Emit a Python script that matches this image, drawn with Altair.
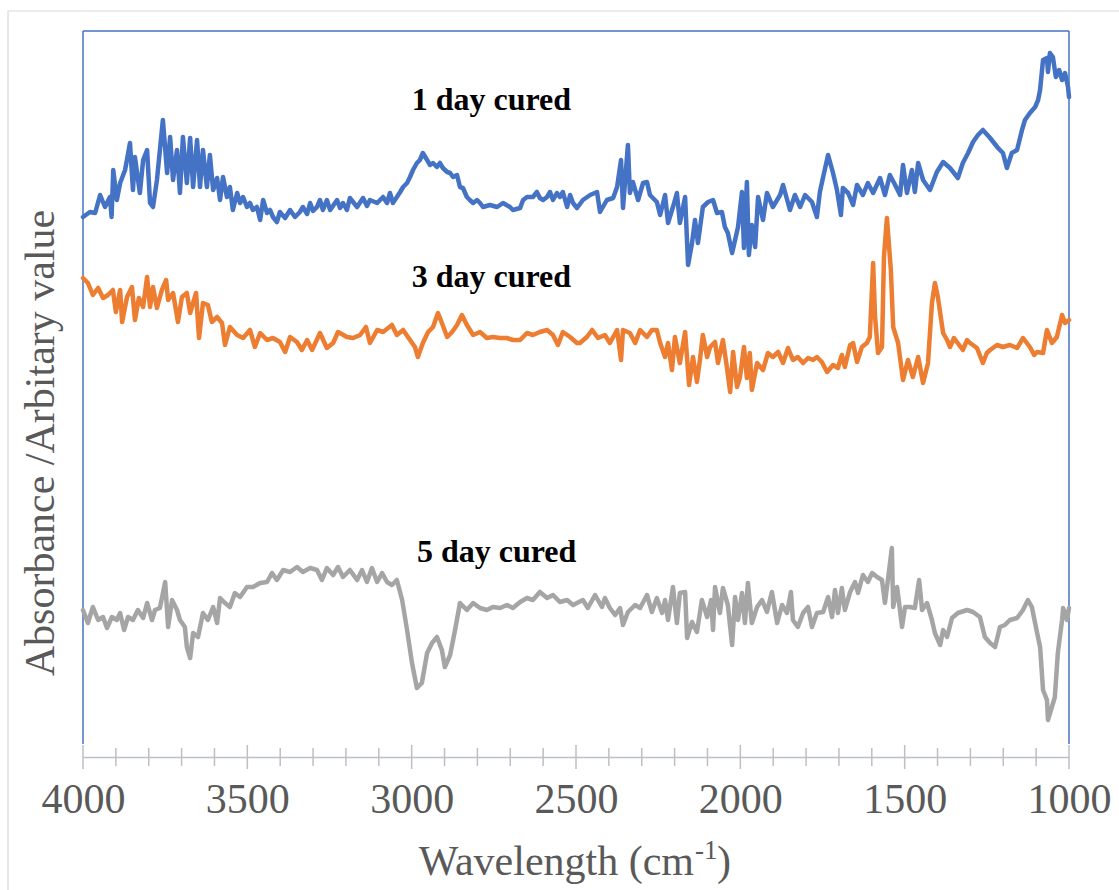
import altair as alt
import pandas as pd

# FTIR spectra of the cured samples: wavenumber (cm-1) and absorbance (arbitrary units)
wn_1day = [4000, 3979, 3963, 3948, 3933, 3918, 3913, 3908, 3897, 3887, 3872, 3857, 3848, 3842, 3827,
           3817, 3805, 3796, 3787, 3775, 3757, 3744, 3735, 3726, 3714, 3705, 3696, 3684, 3674, 3665,
           3653, 3644, 3635, 3623, 3614, 3604, 3592, 3583, 3574, 3562, 3553, 3544, 3531, 3522, 3513,
           3501, 3492, 3483, 3471, 3461, 3452, 3440, 3431, 3422, 3410, 3401, 3385, 3370, 3355, 3340,
           3331, 3318, 3309, 3300, 3288, 3279, 3270, 3258, 3248, 3227, 3218, 3209, 3197, 3188, 3166,
           3148, 3136, 3127, 3105, 3087, 3075, 3066, 3057, 3045, 3035, 3026, 3014, 3005, 2996, 2984,
           2975, 2966, 2953, 2944, 2935, 2923, 2914, 2905, 2892, 2883, 2874, 2862, 2853, 2844, 2832,
           2823, 2813, 2801, 2792, 2783, 2762, 2740, 2722, 2701, 2692, 2670, 2661, 2649, 2631, 2619,
           2610, 2600, 2588, 2579, 2570, 2558, 2549, 2540, 2527, 2518, 2509, 2497, 2479, 2457, 2436,
           2427, 2406, 2387, 2375, 2363, 2357, 2342, 2336, 2327, 2311, 2296, 2284, 2275, 2254, 2244,
           2229, 2220, 2205, 2193, 2184, 2168, 2159, 2147, 2138, 2129, 2114, 2098, 2083, 2071, 2056,
           2047, 2038, 2025, 2016, 2007, 1995, 1989, 1980, 1974, 1965, 1955, 1946, 1931, 1919, 1901,
           1879, 1870, 1849, 1834, 1818, 1803, 1782, 1767, 1758, 1748, 1733, 1718, 1706, 1694, 1688,
           1672, 1657, 1645, 1627, 1612, 1596, 1575, 1560, 1545, 1529, 1514, 1505, 1493, 1478, 1469,
           1459, 1444, 1423, 1402, 1383, 1362, 1338, 1323, 1307, 1292, 1277, 1262, 1240, 1216, 1201,
           1189, 1174, 1158, 1143, 1134, 1119, 1103, 1094, 1088, 1079, 1067, 1064, 1058, 1049, 1040,
           1030, 1021, 1012, 1003, 1000]
abs_1day = [5.40, 5.45, 5.44, 5.62, 5.50, 5.60, 5.40, 5.87, 5.57, 5.74, 5.87, 6.14, 5.67, 6.00, 5.64,
            5.97, 6.07, 5.54, 5.50, 5.77, 6.37, 5.84, 6.20, 5.77, 6.07, 5.64, 6.20, 5.74, 6.19, 5.70,
            6.17, 5.70, 6.07, 5.70, 6.02, 5.67, 5.79, 5.57, 5.80, 5.60, 5.70, 5.47, 5.64, 5.54, 5.60,
            5.50, 5.54, 5.47, 5.50, 5.37, 5.57, 5.44, 5.47, 5.40, 5.35, 5.45, 5.39, 5.47, 5.40, 5.45,
            5.50, 5.43, 5.54, 5.46, 5.50, 5.57, 5.47, 5.57, 5.47, 5.57, 5.49, 5.54, 5.47, 5.59, 5.50,
            5.59, 5.51, 5.57, 5.54, 5.60, 5.54, 5.64, 5.54, 5.60, 5.65, 5.70, 5.74, 5.80, 5.87, 5.94,
            5.97, 6.04, 5.97, 5.92, 5.94, 5.90, 5.94, 5.89, 5.85, 5.84, 5.80, 5.82, 5.70, 5.69, 5.60,
            5.57, 5.54, 5.57, 5.54, 5.50, 5.52, 5.50, 5.54, 5.50, 5.47, 5.49, 5.57, 5.60, 5.60, 5.65,
            5.59, 5.57, 5.60, 5.65, 5.57, 5.64, 5.60, 5.65, 5.50, 5.62, 5.54, 5.49, 5.57, 5.62, 5.65,
            5.45, 5.57, 5.59, 5.70, 5.97, 5.49, 6.12, 5.64, 5.75, 5.57, 5.74, 5.75, 5.62, 5.55, 5.42,
            5.62, 5.34, 5.50, 5.64, 5.34, 5.60, 4.92, 5.14, 5.37, 5.14, 5.50, 5.55, 5.57, 5.44, 5.45,
            5.30, 5.24, 5.04, 5.17, 5.30, 5.65, 5.09, 5.75, 5.02, 5.32, 5.10, 5.60, 5.37, 5.64, 5.50,
            5.62, 5.72, 5.47, 5.62, 5.50, 5.62, 5.55, 5.40, 5.65, 5.80, 6.02, 5.84, 5.67, 5.42, 5.69,
            5.64, 5.52, 5.72, 5.62, 5.74, 5.64, 5.79, 5.62, 5.82, 5.72, 5.62, 5.92, 5.64, 5.87, 5.65,
            5.94, 5.77, 5.67, 5.85, 5.95, 5.89, 5.79, 5.94, 6.04, 6.15, 6.22, 6.27, 6.19, 6.09, 6.04,
            5.89, 6.04, 6.07, 6.27, 6.37, 6.44, 6.50, 6.57, 6.67, 6.97, 6.99, 6.85, 7.04, 7.00, 6.80,
            6.87, 6.77, 6.84, 6.70, 6.60]

wn_3day = [4000, 3985, 3970, 3954, 3939, 3924, 3909, 3900, 3887, 3881, 3866, 3851, 3842, 3830, 3817,
           3805, 3796, 3787, 3775, 3760, 3747, 3741, 3726, 3711, 3699, 3684, 3674, 3656, 3647, 3635,
           3620, 3608, 3592, 3577, 3568, 3553, 3531, 3513, 3492, 3477, 3461, 3440, 3422, 3401, 3385,
           3370, 3349, 3334, 3318, 3303, 3279, 3258, 3239, 3224, 3197, 3178, 3157, 3139, 3127, 3105,
           3087, 3060, 3045, 3026, 3005, 2990, 2981, 2966, 2950, 2935, 2920, 2908, 2892, 2877, 2862,
           2847, 2832, 2813, 2792, 2771, 2753, 2731, 2710, 2692, 2670, 2649, 2631, 2610, 2588, 2570,
           2555, 2540, 2518, 2497, 2488, 2467, 2451, 2433, 2412, 2397, 2375, 2363, 2357, 2336, 2320,
           2305, 2284, 2269, 2254, 2244, 2229, 2220, 2208, 2199, 2184, 2168, 2156, 2144, 2132, 2123,
           2114, 2101, 2092, 2077, 2068, 2053, 2041, 2031, 2022, 2010, 2001, 1989, 1980, 1971, 1965,
           1949, 1931, 1916, 1901, 1885, 1870, 1855, 1840, 1825, 1809, 1794, 1779, 1767, 1752, 1736,
           1718, 1703, 1691, 1682, 1666, 1657, 1645, 1630, 1615, 1606, 1596, 1590, 1581, 1569, 1563,
           1554, 1542, 1535, 1520, 1505, 1490, 1475, 1459, 1444, 1429, 1417, 1408, 1399, 1383, 1371,
           1362, 1350, 1341, 1323, 1310, 1301, 1280, 1262, 1250, 1240, 1219, 1201, 1180, 1158, 1140,
           1119, 1106, 1097, 1079, 1067, 1052, 1037, 1021, 1012, 1000]
abs_3day = [4.79, 4.74, 4.62, 4.69, 4.59, 4.62, 4.67, 4.45, 4.67, 4.35, 4.60, 4.70, 4.37, 4.59, 4.50,
            4.80, 4.50, 4.70, 4.49, 4.67, 4.77, 4.57, 4.64, 4.35, 4.60, 4.64, 4.44, 4.64, 4.19, 4.54,
            4.52, 4.35, 4.40, 4.34, 4.12, 4.30, 4.22, 4.19, 4.27, 4.10, 4.24, 4.17, 4.19, 4.15, 4.05,
            4.20, 4.15, 4.07, 4.17, 4.07, 4.24, 4.09, 4.14, 4.25, 4.20, 4.19, 4.22, 4.30, 4.14, 4.27,
            4.25, 4.32, 4.22, 4.27, 4.17, 4.10, 4.00, 4.14, 4.25, 4.30, 4.44, 4.34, 4.20, 4.25, 4.32,
            4.42, 4.32, 4.22, 4.25, 4.19, 4.20, 4.19, 4.19, 4.17, 4.17, 4.24, 4.22, 4.25, 4.27, 4.22,
            4.12, 4.25, 4.20, 4.14, 4.14, 4.20, 4.27, 4.19, 4.22, 4.14, 4.27, 3.97, 4.27, 4.24, 4.14,
            4.27, 4.20, 4.27, 4.27, 4.14, 4.00, 4.14, 3.87, 4.20, 3.94, 4.25, 3.72, 4.00, 3.75, 3.97,
            4.22, 4.00, 4.10, 4.15, 3.94, 4.17, 3.90, 3.65, 4.05, 3.70, 3.80, 4.10, 3.79, 4.04, 3.67,
            3.94, 3.87, 4.04, 4.00, 4.05, 3.94, 4.09, 3.97, 4.00, 3.94, 3.99, 3.97, 4.00, 3.95, 3.85,
            3.92, 3.89, 4.02, 3.90, 4.12, 4.14, 3.95, 4.10, 4.14, 4.20, 4.94, 4.40, 4.04, 4.10, 5.00,
            5.39, 4.87, 4.30, 4.14, 3.77, 3.97, 3.80, 4.00, 3.74, 3.94, 4.54, 4.74, 4.60, 4.24, 4.17,
            4.10, 4.19, 4.15, 4.07, 4.17, 4.14, 4.09, 3.94, 4.04, 4.07, 4.12, 4.10, 4.12, 4.09, 4.19,
            4.10, 4.02, 4.05, 4.04, 4.27, 4.14, 4.20, 4.42, 4.34, 4.37]

wn_5day = [4000, 3985, 3970, 3954, 3939, 3927, 3912, 3897, 3887, 3875, 3863, 3848, 3833, 3817, 3805,
           3790, 3781, 3766, 3750, 3741, 3729, 3714, 3705, 3690, 3684, 3674, 3665, 3650, 3635, 3620,
           3604, 3592, 3583, 3568, 3553, 3538, 3522, 3501, 3483, 3461, 3440, 3425, 3410, 3391, 3370,
           3349, 3331, 3309, 3288, 3273, 3258, 3239, 3224, 3209, 3188, 3166, 3151, 3136, 3121, 3105,
           3090, 3075, 3060, 3045, 3029, 3014, 2999, 2984, 2969, 2953, 2938, 2923, 2908, 2899, 2883,
           2868, 2853, 2832, 2813, 2792, 2771, 2753, 2731, 2710, 2692, 2670, 2649, 2631, 2610, 2588,
           2570, 2549, 2527, 2509, 2497, 2479, 2464, 2442, 2421, 2412, 2397, 2381, 2366, 2357, 2342,
           2320, 2305, 2284, 2269, 2254, 2238, 2229, 2220, 2205, 2193, 2184, 2168, 2162, 2147, 2132,
           2117, 2101, 2089, 2083, 2077, 2062, 2053, 2038, 2025, 2016, 2007, 1995, 1986, 1977, 1965,
           1949, 1934, 1919, 1904, 1888, 1873, 1858, 1846, 1840, 1825, 1809, 1794, 1782, 1767, 1748,
           1733, 1721, 1712, 1703, 1691, 1682, 1666, 1651, 1642, 1627, 1612, 1599, 1584, 1569, 1560,
           1551, 1539, 1535, 1523, 1508, 1499, 1484, 1469, 1456, 1447, 1432, 1417, 1408, 1392, 1383,
           1371, 1356, 1338, 1310, 1292, 1271, 1256, 1240, 1225, 1210, 1195, 1180, 1158, 1140, 1125,
           1113, 1097, 1088, 1079, 1067, 1064, 1052, 1043, 1034, 1021, 1018, 1006, 1000]
abs_5day = [1.47, 1.34, 1.50, 1.37, 1.40, 1.29, 1.40, 1.37, 1.44, 1.27, 1.40, 1.37, 1.47, 1.39, 1.54,
            1.37, 1.47, 1.49, 1.75, 1.30, 1.57, 1.47, 1.37, 1.30, 1.10, 0.99, 1.24, 1.20, 1.44, 1.37,
            1.50, 1.34, 1.59, 1.54, 1.50, 1.64, 1.60, 1.70, 1.70, 1.74, 1.75, 1.84, 1.77, 1.87, 1.85,
            1.90, 1.85, 1.89, 1.87, 1.77, 1.89, 1.82, 1.90, 1.80, 1.87, 1.77, 1.87, 1.75, 1.89, 1.75,
            1.84, 1.75, 1.72, 1.77, 1.57, 1.27, 0.94, 0.69, 0.74, 1.04, 1.14, 1.20, 1.07, 0.90, 1.02,
            1.27, 1.54, 1.47, 1.54, 1.49, 1.47, 1.50, 1.49, 1.52, 1.49, 1.55, 1.59, 1.57, 1.65, 1.59,
            1.62, 1.55, 1.57, 1.52, 1.54, 1.57, 1.49, 1.62, 1.50, 1.59, 1.49, 1.42, 1.49, 1.32, 1.45,
            1.52, 1.49, 1.62, 1.45, 1.59, 1.44, 1.57, 1.37, 1.70, 1.34, 1.64, 1.65, 1.19, 1.35, 1.25,
            1.57, 1.40, 1.57, 1.27, 1.70, 1.44, 1.69, 1.52, 1.12, 1.60, 1.37, 1.64, 1.34, 1.74, 1.34,
            1.50, 1.57, 1.45, 1.65, 1.34, 1.52, 1.44, 1.65, 1.37, 1.30, 1.44, 1.50, 1.30, 1.44, 1.45,
            1.60, 1.40, 1.67, 1.44, 1.69, 1.47, 1.65, 1.75, 1.64, 1.82, 1.75, 1.84, 1.80, 1.77, 1.54,
            1.77, 2.09, 1.50, 1.70, 1.30, 1.50, 1.50, 1.49, 1.77, 1.47, 1.54, 1.37, 1.24, 1.12, 1.27,
            1.20, 1.39, 1.44, 1.47, 1.45, 1.40, 1.20, 1.14, 1.10, 1.30, 1.32, 1.37, 1.39, 1.47, 1.57,
            1.50, 1.24, 1.10, 0.67, 0.57, 0.37, 0.50, 0.60, 1.04, 1.37, 1.49, 1.37, 1.49]

series_names = ["1 day cured", "3 day cured", "5 day cured"]
series_colors = ["#4472c4", "#ed7d31", "#a5a5a5"]

# where each series name is written (wavenumber, absorbance of the text baseline)
label_wn = [3000, 3000, 2984]
label_abs = [6.47, 4.70, 1.95]

major_ticks = [4000, 3500, 3000, 2500, 2000, 1500, 1000]
minor_ticks = [w for w in range(3900, 1000, -100) if w % 500 != 0]

# ---- layout (pixels) ----
PLOT_W, PLOT_H = 986, 726
FRAME_H = 713          # blue frame stops short of the x axis line
SERIF = "Liberation Serif, Times New Roman, serif"
GREY_TEXT = "#595959"

spectra = pd.concat([
    pd.DataFrame({"wavenumber": wn, "absorbance": ab, "sample": name})
    for wn, ab, name in zip([wn_1day, wn_3day, wn_5day],
                            [abs_1day, abs_3day, abs_5day], series_names)
])
labels = pd.DataFrame({"wavenumber": label_wn, "absorbance": label_abs, "sample": series_names})
ticks_major = pd.DataFrame({"wavenumber": major_ticks})
ticks_minor = pd.DataFrame({"wavenumber": minor_ticks})
one_row = pd.DataFrame({"k": [0]})

x_scale = alt.Scale(domain=[1000, 4000], reverse=True, nice=False, zero=False)
y_scale = alt.Scale(domain=[0, 7.26], nice=False, zero=False)
color_scale = alt.Scale(domain=series_names, range=series_colors)

lines = alt.Chart(spectra).mark_line(strokeWidth=4.5, strokeJoin="round", strokeCap="round",
                                     clip=False).encode(
    x=alt.X("wavenumber:Q", scale=x_scale,
            axis=alt.Axis(values=major_ticks, ticks=False, tickSize=0, grid=False,
                          domainColor="#b9c0cc", domainWidth=1.5,
                          labelFont=SERIF, labelFontSize=42, labelColor=GREY_TEXT,
                          labelPadding=55, labelBaseline="alphabetic", labelFlush=False,
                          format="d", title=None)),
    y=alt.Y("absorbance:Q", scale=y_scale, axis=None),
    color=alt.Color("sample:N", scale=color_scale, legend=None),
    detail="sample:N",
)

series_text = alt.Chart(labels).mark_text(
    font=SERIF, fontSize=32, fontWeight="bold", color="black",
    align="left", baseline="alphabetic"
).encode(
    x=alt.X("wavenumber:Q", scale=x_scale),
    y=alt.Y("absorbance:Q", scale=y_scale),
    text="sample:N",
)

tick_major = alt.Chart(ticks_major).mark_rule(color="#bfbfbf", strokeWidth=1.5).encode(
    x=alt.X("wavenumber:Q", scale=x_scale),
    y=alt.value(PLOT_H - 12), y2=alt.value(PLOT_H + 12),
)
tick_minor = alt.Chart(ticks_minor).mark_rule(color="#bfbfbf", strokeWidth=1.5).encode(
    x=alt.X("wavenumber:Q", scale=x_scale),
    y=alt.value(PLOT_H - 9), y2=alt.value(PLOT_H + 9),
)

frame_color = "#4472c4"
frame_left = alt.Chart(one_row).mark_rule(color=frame_color, strokeWidth=1.5).encode(
    x=alt.value(0), y=alt.value(0), y2=alt.value(FRAME_H))
frame_right = alt.Chart(one_row).mark_rule(color=frame_color, strokeWidth=1.5).encode(
    x=alt.value(PLOT_W), y=alt.value(0), y2=alt.value(FRAME_H))
frame_top = alt.Chart(one_row).mark_rule(color=frame_color, strokeWidth=1.5).encode(
    x=alt.value(0), x2=alt.value(PLOT_W), y=alt.value(0))

# outer chart-area border
outer = alt.Chart(one_row).mark_rect(fill="white", fillOpacity=0, stroke="#d9d9d9", strokeWidth=1.2).encode(
    x=alt.value(-75), x2=alt.value(1045), y=alt.value(-20), y2=alt.value(875))

# axis titles
y_title = alt.Chart(one_row).mark_text(
    font=SERIF, fontSize=42, color=GREY_TEXT, angle=270, align="center", baseline="alphabetic"
).encode(x=alt.value(-29), y=alt.value(412), text=alt.value("Absorbance /Arbitary value"))

x_title_main = alt.Chart(one_row).mark_text(
    font=SERIF, fontSize=42, color=GREY_TEXT, align="right", baseline="alphabetic"
).encode(x=alt.value(611), y=alt.value(844), text=alt.value("Wavelength (cm"))
x_title_sup = alt.Chart(one_row).mark_text(
    font=SERIF, fontSize=27, color=GREY_TEXT, align="left", baseline="alphabetic"
).encode(x=alt.value(612), y=alt.value(828), text=alt.value("-1"))
x_title_close = alt.Chart(one_row).mark_text(
    font=SERIF, fontSize=42, color=GREY_TEXT, align="left", baseline="alphabetic"
).encode(x=alt.value(634), y=alt.value(844), text=alt.value(")"))

chart = alt.layer(
    outer, frame_left, frame_right, frame_top, tick_minor, tick_major,
    lines, series_text, y_title, x_title_main, x_title_sup, x_title_close,
).properties(
    width=PLOT_W, height=PLOT_H,
    autosize=alt.AutoSizeParams(type="none"),
    padding={"left": 83, "top": 31, "right": 50, "bottom": 133},
    background="white",
).configure_view(stroke=None)

chart.save("out.html", embed_options={"renderer": "svg", "actions": False})
